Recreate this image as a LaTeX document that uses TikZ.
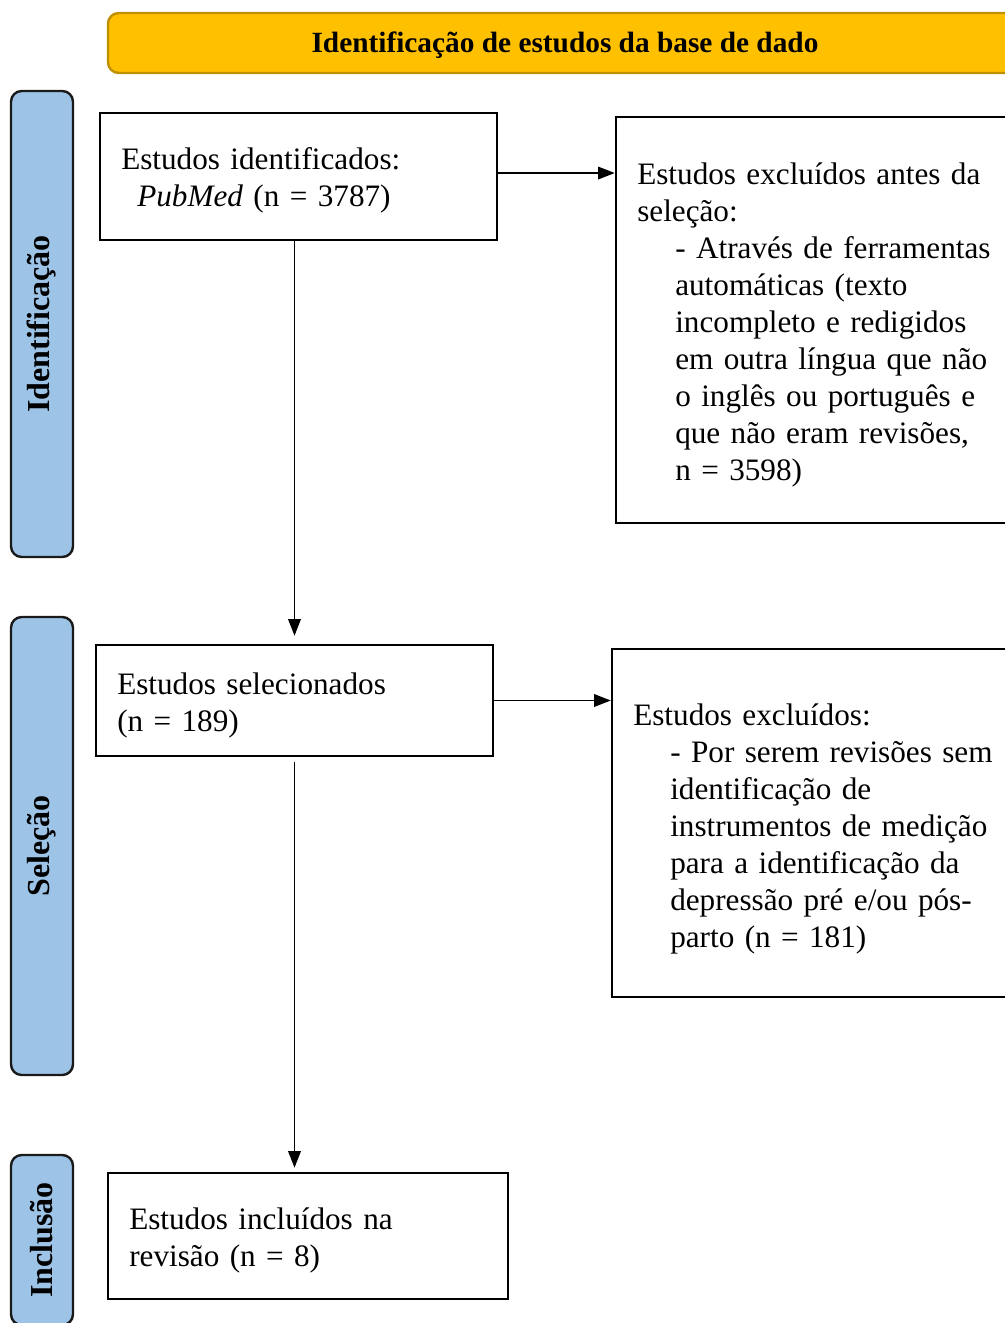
\documentclass[tikz,border=0pt]{standalone}
\usepackage{fontspec}
\setmainfont{Liberation Serif}
\usetikzlibrary{arrows.meta}
\definecolor{bannerfill}{HTML}{FFC000}
\definecolor{bannerdraw}{HTML}{BF9000}
\definecolor{sidefill}{HTML}{9DC3E6}
\definecolor{sidedraw}{HTML}{1A1A1A}
\tikzset{
  flowbox/.style={draw=black, line width=1.9pt, fill=white, inner sep=0pt},
  sidebox/.style={draw=sidedraw, line width=1.8pt, fill=sidefill, rounded corners=8pt,
    rotate=90, minimum height=46.5pt, inner sep=0pt,
    font=\fontsize{24}{28}\selectfont\bfseries},
  bodytext/.style={anchor=base west, inner sep=0pt, text width=330pt, align=left,
    font=\fontsize{23.4}{27.75}\selectfont},
  arr/.style={line width=1.05pt, -{Triangle[length=12.5pt,width=9.5pt]}}
}
\begin{document}
\begin{tikzpicture}[x=0.75pt,y=-0.75pt]
\useasboundingbox (0,0) rectangle (1004,1323);
% banner
\node[draw=bannerdraw, line width=1.8pt, fill=bannerfill, rounded corners=8pt,
  minimum width=685.5pt, minimum height=45pt, inner sep=0pt,
  text height=14.5pt, text depth=0pt,
  font=\fontsize{22}{26}\selectfont\bfseries] (banner) at (565,43)
  {Identificação de estudos da base de dado};
% side labels
\node[sidebox, minimum width=349.5pt] (side1) at (42,324) {Identificação};
\node[sidebox, minimum width=343.5pt] (side2) at (42,846) {Seleção};
\node[sidebox, minimum width=127.5pt] (side3) at (42,1240) {Inclusão};
% boxes
\node[flowbox, minimum width=297.75pt, minimum height=95.25pt] (box1) at (298.5,176.5) {};
\node[flowbox, minimum width=310.5pt, minimum height=304.5pt] (box2) at (823,320) {};
\node[flowbox, minimum width=297.75pt, minimum height=83.25pt] (box3) at (294.5,700.5) {};
\node[flowbox, minimum width=313.5pt, minimum height=261pt] (box4) at (821,823) {};
\node[flowbox, minimum width=300pt, minimum height=94.5pt] (box5) at (308,1236) {};
% texts
\node[bodytext] (t1) at (121,170) {Estudos identificados:\\
\hspace*{12pt}\textit{PubMed} (n = 3787)};
\node[bodytext] (t2) at (637,185) {Estudos excluídos antes da\\
seleção:\\
\hspace*{28.5pt}- Através de ferramentas\\
\hspace*{28.5pt}automáticas (texto\\
\hspace*{28.5pt}incompleto e redigidos\\
\hspace*{28.5pt}em outra língua que não\\
\hspace*{28.5pt}o inglês ou português e\\
\hspace*{28.5pt}que não eram revisões,\\
\hspace*{28.5pt}n = 3598)};
\node[bodytext] (t3) at (117,694) {Estudos selecionados\\
(n = 189)};
\node[bodytext] (t4) at (633,725) {Estudos excluídos:\\
\hspace*{27.75pt}- Por serem revisões sem\\
\hspace*{27.75pt}identificação de\\
\hspace*{27.75pt}instrumentos de medição\\
\hspace*{27.75pt}para a identificação da\\
\hspace*{27.75pt}depressão pré e/ou pós-\\
\hspace*{27.75pt}parto (n = 181)};
\node[bodytext] (t5) at (129,1229) {Estudos incluídos na\\
revisão (n = 8)};
% connectors
\draw[arr] ([yshift=2.6pt]box1.east) -- ([yshift=2.6pt]box1.east -| box2.west);
\draw[arr] (box3.east) -- (box3.east -| box4.west);
\draw[arr, shorten >=6pt] (box3.north |- box1.south) -- (box3.north);
\draw[arr, shorten <=3.5pt, shorten >=3pt] (box3.south) -- (box3.south |- box5.north);
\end{tikzpicture}
\end{document}
